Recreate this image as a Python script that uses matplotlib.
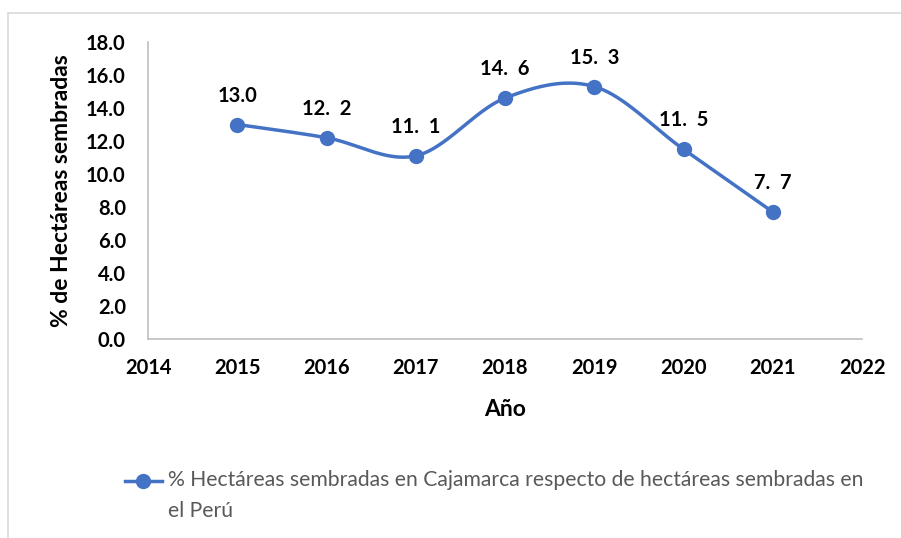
import matplotlib.pyplot as plt
import matplotlib.patches as patches
import numpy as np

plt.rcParams['font.family'] = ['Lato', 'DejaVu Sans']

years = [2015, 2016, 2017, 2018, 2019, 2020, 2021]
pct = [13.0, 12.2, 11.1, 14.6, 15.3, 11.5, 7.7]
point_labels = ['13.0', '12.  2', '11.  1', '14.  6', '15.  3', '11.  5', '7.  7']
legend_text = ('% Hectáreas sembradas en Cajamarca respecto de hectáreas sembradas en\n'
               'el Perú')

BLUE = '#4472C4'


def smooth(x, y, n=40):
    # Excel-like smoothed line: Catmull-Rom through the points
    x = np.asarray(x, float)
    y = np.asarray(y, float)
    px = np.concatenate([[x[0]], x, [x[-1]]])
    py = np.concatenate([[y[0]], y, [y[-1]]])
    xs, ys = [], []
    for i in range(1, len(px) - 2):
        t = np.linspace(0, 1, n)
        b1x = px[i] + (px[i + 1] - px[i - 1]) / 6
        b1y = py[i] + (py[i + 1] - py[i - 1]) / 6
        b2x = px[i + 1] - (px[i + 2] - px[i]) / 6
        b2y = py[i + 1] - (py[i + 2] - py[i]) / 6
        xs.append((1 - t)**3 * px[i] + 3 * (1 - t)**2 * t * b1x + 3 * (1 - t) * t**2 * b2x + t**3 * px[i + 1])
        ys.append((1 - t)**3 * py[i] + 3 * (1 - t)**2 * t * b1y + 3 * (1 - t) * t**2 * b2y + t**3 * py[i + 1])
    return np.concatenate(xs), np.concatenate(ys)


fig = plt.figure(figsize=(9.01, 5.38), dpi=100)
fig.patches.append(patches.Rectangle((8 / 901, -0.1), 1.2, (538 - 13) / 538 + 0.1,
                                     transform=fig.transFigure, fill=False,
                                     edgecolor='#d9d9d9', linewidth=1.2))

ax = fig.add_axes([148 / 901, 1 - 339 / 538, (862 - 148) / 901, (339 - 42) / 538])

sx, sy = smooth(years, pct)
ax.plot(sx, sy, color=BLUE, linewidth=2.5, zorder=2)
ax.plot(years, pct, 'o', color=BLUE, markersize=10, zorder=3)

for x, y, lab in zip(years, pct, point_labels):
    ax.annotate(lab, (x, y), xytext=(0, 19), textcoords='offset pixels',
                ha='center', va='bottom', fontsize=14.5, fontweight='bold', color='black')

ax.set_xlim(2014, 2022)
ax.set_ylim(0, 18)
ax.set_xticks(range(2014, 2023))
ax.set_yticks(np.arange(0, 18.1, 2))
ax.set_yticklabels([f'{v:.1f}' for v in np.arange(0, 18.1, 2)])
ax.tick_params(length=0, labelsize=14.5, pad=16)
ax.tick_params(axis='x', pad=14)
for lab in ax.get_xticklabels() + ax.get_yticklabels():
    lab.set_fontweight('bold')

for side in ['top', 'right']:
    ax.spines[side].set_visible(False)
for side in ['left', 'bottom']:
    ax.spines[side].set_color('#bfbfbf')
    ax.spines[side].set_linewidth(1.2)

ax.set_xlabel('Año', fontsize=16.5, fontweight='bold', labelpad=15)
ax.set_ylabel('% de Hectáreas sembradas', fontsize=16.5, fontweight='bold', labelpad=10)

# legend
fig.lines.append(plt.Line2D([125 / 901, 162 / 901], [1 - 481 / 538] * 2, transform=fig.transFigure,
                            color=BLUE, linewidth=2.5))
fig.lines.append(plt.Line2D([143 / 901], [1 - 481 / 538], transform=fig.transFigure,
                            color=BLUE, marker='o', markersize=10))
fig.text(168 / 901, 1 - 470 / 538, legend_text, fontsize=15.2, color='#595959',
         va='top', ha='left', linespacing=1.7)

fig.savefig('out.png', dpi=100)
